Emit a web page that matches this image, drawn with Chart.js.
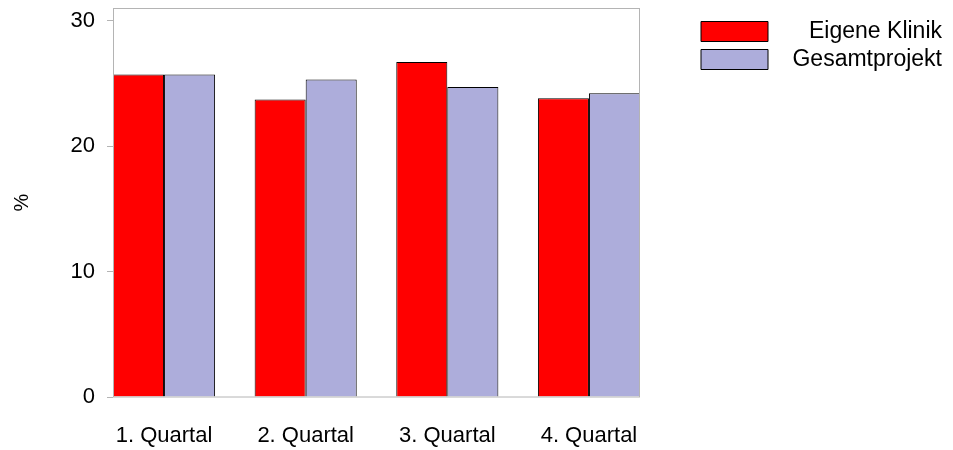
<!DOCTYPE html>
<html>
<head>
<meta charset="utf-8">
<script src="https://cdn.jsdelivr.net/npm/chart.js@4/dist/chart.umd.min.js"></script>
<style>
  html, body { margin: 0; padding: 0; background: #fff; }
  #wrap { position: relative; width: 953px; height: 450px; }
</style>
</head>
<body>
<div id="wrap"><canvas id="c" width="953" height="450"></canvas></div>
<script>
const categories = ['1. Quartal', '2. Quartal', '3. Quartal', '4. Quartal'];
const eigeneKlinik = [25.7, 23.7, 26.7, 23.8];
const gesamtprojekt = [25.7, 25.3, 24.7, 24.2];
const yTicks = [0, 10, 20, 30];
const seriesNames = ['Eigene Klinik', 'Gesamtprojekt'];

const HALF = 0.3604;   // half-width of a bar group, in category units
const FONT = 'Liberation Sans, Arial, sans-serif';

const toPoints = arr => arr.map((v, i) => ({ x: i, y: v }));

const framePlugin = {
  id: 'frame',
  beforeLayout(chart) {
    const lg = chart.legend;
    if (lg && !lg._patchedFit) {
      const orig = lg.fit.bind(lg);
      lg.fit = function () { orig(); this.width = 302; };
      lg._patchedFit = true;
    }
  },
  afterLayout(chart) {
    const lg = chart.legend;
    if (lg) {
      const p = lg.options.labels.padding;
      lg.left = 701 - p;
      lg.top = 20 - p;
    }
  },
  afterDatasetsDraw(chart) {
    const a = chart.chartArea, ctx = chart.ctx;
    ctx.save();
    ctx.strokeStyle = '#b4b4b4';
    ctx.lineWidth = 1;
    ctx.strokeRect(a.left + 0.5, a.top + 0.5, a.right - a.left - 1, a.bottom - a.top - 0.5);
    ctx.restore();
  }
};

new Chart(document.getElementById('c'), {
  type: 'bar',
  data: {
    datasets: [
      { label: seriesNames[0], data: toPoints(eigeneKlinik), backgroundColor: '#ff0000', borderColor: '#000', borderWidth: 1, borderSkipped: 'start' },
      { label: seriesNames[1], data: toPoints(gesamtprojekt), backgroundColor: '#adaddb', borderColor: '#000', borderWidth: 1, borderSkipped: 'start' }
    ]
  },
  options: {
    responsive: false,
    animation: false,
    devicePixelRatio: 1,
    layout: { padding: { top: 8, right: 11, bottom: 1, left: 0 } },
    datasets: { bar: { categoryPercentage: 2 * HALF, barPercentage: 1 } },
    plugins: {
      legend: {
        position: 'right',
        align: 'start',
        maxWidth: 400,
        labels: {
          boxWidth: 67, boxHeight: 20, padding: 5,
          textAlign: 'right',
          color: '#000',
          font: { family: FONT, size: 23 }
        }
      },
      tooltip: { enabled: false }
    },
    scales: {
      x: {
        type: 'linear',
        offset: false,
        min: -HALF, max: categories.length - 1 + HALF,
        grid: { display: false, offset: false, drawTicks: false },
        border: { display: false },
        afterBuildTicks: s => { s.ticks = categories.map((c, i) => ({ value: i })); },
        afterFit: s => { s.height = 52; s.paddingLeft = 0; s.paddingRight = 0; },
        ticks: {
          padding: 26,
          maxRotation: 0, minRotation: 0, autoSkip: false,
          color: '#000',
          font: { family: FONT, size: 22 },
          callback: v => categories[v]
        }
      },
      y: {
        min: 0, max: 31,
        afterBuildTicks: s => { s.ticks = yTicks.map(v => ({ value: v })); },
        afterFit: s => { s.width = 113; s.paddingTop = 0; s.paddingBottom = 0; },
        grid: { drawOnChartArea: false, drawTicks: true, tickLength: 6, color: '#b4b4b4' },
        border: { display: false },
        ticks: { padding: 12, color: '#000', font: { family: FONT, size: 22 } },
        title: { display: true, text: '%', color: '#000', font: { family: FONT, size: 20 }, padding: { top: 10, bottom: 0 } }
      }
    }
  },
  plugins: [framePlugin]
});
</script>
</body>
</html>
